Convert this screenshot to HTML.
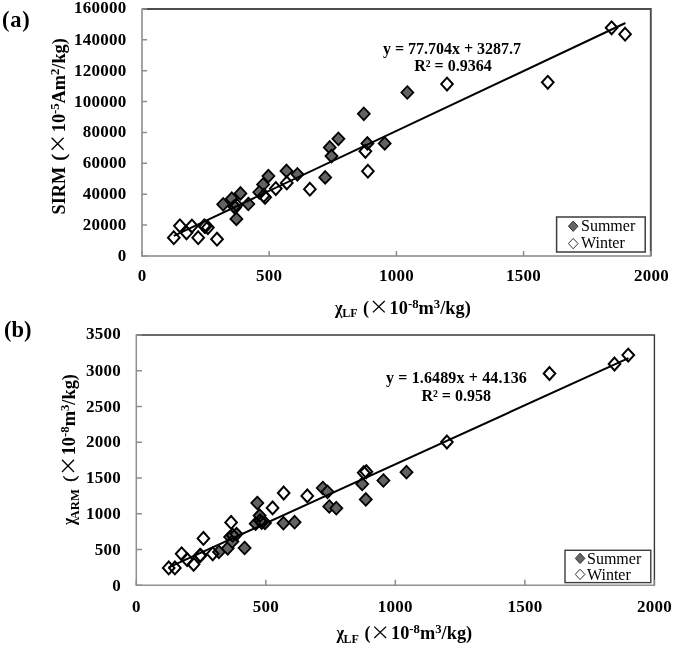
<!DOCTYPE html>
<html><head><meta charset="utf-8"><title>chart</title>
<style>
html,body{margin:0;padding:0;background:#fff}
body{width:675px;height:646px;overflow:hidden}
svg{display:block;will-change:transform}
text{font-family:"Liberation Serif",serif;fill:#000}
.tk{font-size:17px;font-weight:bold;letter-spacing:0.25px}
.eq{font-size:16px;font-weight:bold}
.lg{font-size:16px}
.pl{font-size:22.5px;font-weight:bold}
.tt{font-size:18px;font-weight:bold}
.tr{font-size:18px}
.sp{font-size:12.5px;font-weight:bold}
.sb{font-size:12px;font-weight:bold}
</style></head><body>
<svg width="675" height="646" viewBox="0 0 675 646">
<rect width="675" height="646" fill="#fff"/>
<path d="M142.0 9.0H650.8V255.9" fill="none" stroke="#4c4c4c" stroke-width="1.9"/>
<path d="M142.0 8.4V255.9H651.4" fill="none" stroke="#a4a4a4" stroke-width="2.0"/>
<path d="M142.0 255.90h5M142.0 225.04h5M142.0 194.18h5M142.0 163.31h5M142.0 132.45h5M142.0 101.59h5M142.0 70.72h5M142.0 39.86h5M142.0 9.00h5M142.00 255.9v-5M269.20 255.9v-5M396.40 255.9v-5M523.60 255.9v-5M650.80 255.9v-5" fill="none" stroke="#8e8e8e" stroke-width="1.5"/>
<text class="tk" x="126.6" y="260.9" text-anchor="end">0</text>
<text class="tk" x="126.6" y="230.0" text-anchor="end">20000</text>
<text class="tk" x="126.6" y="199.2" text-anchor="end">40000</text>
<text class="tk" x="126.6" y="168.3" text-anchor="end">60000</text>
<text class="tk" x="126.6" y="137.4" text-anchor="end">80000</text>
<text class="tk" x="126.6" y="106.6" text-anchor="end">100000</text>
<text class="tk" x="126.6" y="75.7" text-anchor="end">120000</text>
<text class="tk" x="126.6" y="44.9" text-anchor="end">140000</text>
<text class="tk" x="126.6" y="12.6" text-anchor="end">160000</text>
<text class="tk" x="142.0" y="281.1" text-anchor="middle">0</text>
<text class="tk" x="269.2" y="281.1" text-anchor="middle">500</text>
<text class="tk" x="396.4" y="281.1" text-anchor="middle">1000</text>
<text class="tk" x="523.6" y="281.1" text-anchor="middle">1500</text>
<text class="tk" x="651.6" y="281.1" text-anchor="middle">2000</text>
<path d="M223.2 198.0L229.1 204.3L223.2 210.6L217.2 204.3Z" fill="#626262" stroke="#000" stroke-width="1.8"/>
<path d="M231.8 192.4L237.8 198.7L231.8 205.0L225.8 198.7Z" fill="#626262" stroke="#000" stroke-width="1.8"/>
<path d="M234.1 200.2L240.1 206.5L234.1 212.8L228.1 206.5Z" fill="#626262" stroke="#000" stroke-width="1.8"/>
<path d="M236.4 212.6L242.4 218.9L236.4 225.2L230.4 218.9Z" fill="#626262" stroke="#000" stroke-width="1.8"/>
<path d="M240.5 187.1L246.4 193.4L240.5 199.7L234.5 193.4Z" fill="#626262" stroke="#000" stroke-width="1.8"/>
<path d="M248.3 197.7L254.3 204.0L248.3 210.3L242.4 204.0Z" fill="#626262" stroke="#000" stroke-width="1.8"/>
<path d="M260.8 185.3L266.8 191.6L260.8 197.9L254.8 191.6Z" fill="#626262" stroke="#000" stroke-width="1.8"/>
<path d="M263.1 178.2L269.1 184.5L263.1 190.8L257.1 184.5Z" fill="#626262" stroke="#000" stroke-width="1.8"/>
<path d="M259.3 186.0L265.3 192.3L259.3 198.6L253.3 192.3Z" fill="#626262" stroke="#000" stroke-width="1.8"/>
<path d="M268.4 169.8L274.4 176.1L268.4 182.4L262.5 176.1Z" fill="#626262" stroke="#000" stroke-width="1.8"/>
<path d="M286.5 164.6L292.5 170.9L286.5 177.2L280.5 170.9Z" fill="#626262" stroke="#000" stroke-width="1.8"/>
<path d="M297.4 168.0L303.4 174.3L297.4 180.6L291.5 174.3Z" fill="#626262" stroke="#000" stroke-width="1.8"/>
<path d="M325.2 171.1L331.2 177.4L325.2 183.7L319.2 177.4Z" fill="#626262" stroke="#000" stroke-width="1.8"/>
<path d="M329.7 141.1L335.7 147.4L329.7 153.7L323.8 147.4Z" fill="#626262" stroke="#000" stroke-width="1.8"/>
<path d="M331.5 149.8L337.5 156.1L331.5 162.4L325.5 156.1Z" fill="#626262" stroke="#000" stroke-width="1.8"/>
<path d="M338.4 132.5L344.4 138.8L338.4 145.1L332.4 138.8Z" fill="#626262" stroke="#000" stroke-width="1.8"/>
<path d="M363.8 107.5L369.8 113.8L363.8 120.1L357.9 113.8Z" fill="#626262" stroke="#000" stroke-width="1.8"/>
<path d="M367.4 137.1L373.4 143.4L367.4 149.7L361.4 143.4Z" fill="#626262" stroke="#000" stroke-width="1.8"/>
<path d="M384.7 137.1L390.7 143.4L384.7 149.7L378.7 143.4Z" fill="#626262" stroke="#000" stroke-width="1.8"/>
<path d="M407.3 86.2L413.3 92.5L407.3 98.8L401.4 92.5Z" fill="#626262" stroke="#000" stroke-width="1.8"/>
<path d="M173.8 231.3L179.6 237.7L173.8 244.1L168.0 237.7Z" fill="none" stroke="#000" stroke-width="2"/>
<path d="M179.9 219.4L185.7 225.8L179.9 232.2L174.1 225.8Z" fill="none" stroke="#000" stroke-width="2"/>
<path d="M186.5 226.4L192.3 232.8L186.5 239.2L180.7 232.8Z" fill="none" stroke="#000" stroke-width="2"/>
<path d="M191.9 219.7L197.7 226.1L191.9 232.5L186.0 226.1Z" fill="none" stroke="#000" stroke-width="2"/>
<path d="M198.2 231.3L204.0 237.7L198.2 244.1L192.4 237.7Z" fill="none" stroke="#000" stroke-width="2"/>
<path d="M204.3 219.4L210.2 225.8L204.3 232.2L198.5 225.8Z" fill="none" stroke="#000" stroke-width="2"/>
<path d="M205.1 220.3L210.9 226.7L205.1 233.1L199.3 226.7Z" fill="none" stroke="#000" stroke-width="2"/>
<path d="M207.9 221.2L213.7 227.6L207.9 234.0L202.1 227.6Z" fill="none" stroke="#000" stroke-width="2"/>
<path d="M217.0 232.8L222.9 239.2L217.0 245.6L211.2 239.2Z" fill="none" stroke="#000" stroke-width="2"/>
<path d="M235.1 201.2L240.9 207.6L235.1 214.0L229.3 207.6Z" fill="none" stroke="#000" stroke-width="2"/>
<path d="M236.6 198.7L242.5 205.1L236.6 211.5L230.8 205.1Z" fill="none" stroke="#000" stroke-width="2"/>
<path d="M263.6 189.3L269.4 195.7L263.6 202.1L257.8 195.7Z" fill="none" stroke="#000" stroke-width="2"/>
<path d="M265.1 190.9L271.0 197.3L265.1 203.7L259.3 197.3Z" fill="none" stroke="#000" stroke-width="2"/>
<path d="M275.8 182.2L281.6 188.6L275.8 195.0L270.0 188.6Z" fill="none" stroke="#000" stroke-width="2"/>
<path d="M286.8 176.5L292.6 182.9L286.8 189.3L280.9 182.9Z" fill="none" stroke="#000" stroke-width="2"/>
<path d="M309.9 182.8L315.7 189.2L309.9 195.6L304.1 189.2Z" fill="none" stroke="#000" stroke-width="2"/>
<path d="M365.4 144.9L371.2 151.3L365.4 157.7L359.5 151.3Z" fill="none" stroke="#000" stroke-width="2"/>
<path d="M367.9 164.8L373.7 171.2L367.9 177.6L362.1 171.2Z" fill="none" stroke="#000" stroke-width="2"/>
<path d="M447.0 77.7L452.8 84.1L447.0 90.5L441.2 84.1Z" fill="none" stroke="#000" stroke-width="2"/>
<path d="M547.8 75.9L553.6 82.3L547.8 88.7L541.9 82.3Z" fill="none" stroke="#000" stroke-width="2"/>
<path d="M611.6 21.4L617.4 27.8L611.6 34.2L605.8 27.8Z" fill="none" stroke="#000" stroke-width="2"/>
<path d="M625.1 27.8L630.9 34.2L625.1 40.6L619.3 34.2Z" fill="none" stroke="#000" stroke-width="2"/>
<line x1="173.8" y1="235.8" x2="625.4" y2="23.0" stroke="#000" stroke-width="2"/>
<text class="eq" x="452" y="53.7" text-anchor="middle">y = 77.704x + 3287.7</text>
<text class="eq" x="453" y="70.8" text-anchor="middle">R² = 0.9364</text>
<rect x="556.6" y="217" width="88.6" height="35" fill="#fff" stroke="#3c3c3c" stroke-width="1.5"/>
<path d="M573.2 221.0L578.0 226.2L573.2 231.4L568.4 226.2Z" fill="#666" stroke="#333" stroke-width="1"/>
<path d="M573.2 238.4L578.0 243.6L573.2 248.8L568.4 243.6Z" fill="#fff" stroke="#333" stroke-width="1"/>
<text class="lg" x="581" y="230.6">Summer</text>
<text class="lg" x="581" y="248.1">Winter</text>
<text class="pl" x="2" y="26.8" style="letter-spacing:0.7px">(a)</text>
<text class="tt" x="335" y="313.6" textLength="7.6" lengthAdjust="spacingAndGlyphs">χ</text>
<text class="sb" x="342.2" y="317.0">LF</text>
<text class="tt" x="363" y="313.6">(</text>
<path d="M372.9 301.0l11.8 11.4m0 -11.4l-11.8 11.4" stroke="#000" stroke-width="1.3" fill="none"/>
<text class="tt" x="389.6" y="313.6" textLength="81.2" lengthAdjust="spacingAndGlyphs">10<tspan class="sp" dy="-6">-8</tspan><tspan dy="6">m</tspan><tspan class="sp" dy="-6">3</tspan><tspan dy="6">/kg)</tspan></text>
<g transform="translate(64.8,214.6) rotate(-90)">
<text class="tt" x="0.2" y="0" textLength="47.6" lengthAdjust="spacingAndGlyphs">SIRM</text>
<text class="tt" x="54.2" y="0.5" style="font-size:19px;font-weight:normal;stroke:#000;stroke-width:0.55">(</text>
<path d="M64.8 -13.2l12 12m0 -12l-12 12" stroke="#000" stroke-width="1.3" fill="none"/>
<text class="tt" x="82.4" y="0" textLength="94" lengthAdjust="spacingAndGlyphs">10<tspan class="sp" dy="-6">-5</tspan><tspan dy="6">Am</tspan><tspan class="sp" dy="-6">2</tspan><tspan dy="6">/kg)</tspan></text>
</g>
<path d="M136.3 335.0H654.4V585.3" fill="none" stroke="#3a3a3a" stroke-width="1.4"/>
<path d="M136.3 334.4V585.3H655.0" fill="none" stroke="#909090" stroke-width="1.5"/>
<path d="M136.3 585.30h5.6M136.3 549.54h5.6M136.3 513.79h5.6M136.3 478.03h5.6M136.3 442.27h5.6M136.3 406.51h5.6M136.3 370.76h5.6M136.3 335.00h5.6M136.30 585.3v-5.6M265.82 585.3v-5.6M395.35 585.3v-5.6M524.88 585.3v-5.6M654.40 585.3v-5.6" fill="none" stroke="#8e8e8e" stroke-width="1.5"/>
<text class="tk" x="120.9" y="590.8" text-anchor="end">0</text>
<text class="tk" x="120.9" y="554.5" text-anchor="end">500</text>
<text class="tk" x="120.9" y="518.8" text-anchor="end">1000</text>
<text class="tk" x="120.9" y="483.0" text-anchor="end">1500</text>
<text class="tk" x="120.9" y="447.3" text-anchor="end">2000</text>
<text class="tk" x="120.9" y="411.5" text-anchor="end">2500</text>
<text class="tk" x="120.9" y="375.8" text-anchor="end">3000</text>
<text class="tk" x="120.9" y="339.1" text-anchor="end">3500</text>
<text class="tk" x="136.3" y="611.6" text-anchor="middle">0</text>
<text class="tk" x="265.8" y="611.6" text-anchor="middle">500</text>
<text class="tk" x="395.3" y="611.6" text-anchor="middle">1000</text>
<text class="tk" x="524.9" y="611.6" text-anchor="middle">1500</text>
<text class="tk" x="654.4" y="611.6" text-anchor="middle">2000</text>
<path d="M218.9 545.7L224.9 552.0L218.9 558.3L213.0 552.0Z" fill="#626262" stroke="#000" stroke-width="1.8"/>
<path d="M227.7 542.0L233.7 548.3L227.7 554.6L221.8 548.3Z" fill="#626262" stroke="#000" stroke-width="1.8"/>
<path d="M230.1 530.7L236.1 537.0L230.1 543.3L224.1 537.0Z" fill="#626262" stroke="#000" stroke-width="1.8"/>
<path d="M232.4 535.2L238.4 541.5L232.4 547.8L226.4 541.5Z" fill="#626262" stroke="#000" stroke-width="1.8"/>
<path d="M236.6 527.8L242.5 534.1L236.6 540.4L230.6 534.1Z" fill="#626262" stroke="#000" stroke-width="1.8"/>
<path d="M244.6 541.7L250.6 548.0L244.6 554.3L238.6 548.0Z" fill="#626262" stroke="#000" stroke-width="1.8"/>
<path d="M257.3 496.7L263.3 503.0L257.3 509.3L251.3 503.0Z" fill="#626262" stroke="#000" stroke-width="1.8"/>
<path d="M259.6 509.3L265.6 515.6L259.6 521.9L253.6 515.6Z" fill="#626262" stroke="#000" stroke-width="1.8"/>
<path d="M255.7 517.4L261.7 523.7L255.7 530.0L249.7 523.7Z" fill="#626262" stroke="#000" stroke-width="1.8"/>
<path d="M265.0 516.6L271.0 522.9L265.0 529.2L259.1 522.9Z" fill="#626262" stroke="#000" stroke-width="1.8"/>
<path d="M283.4 516.9L289.4 523.2L283.4 529.5L277.5 523.2Z" fill="#626262" stroke="#000" stroke-width="1.8"/>
<path d="M294.6 515.9L300.6 522.2L294.6 528.5L288.6 522.2Z" fill="#626262" stroke="#000" stroke-width="1.8"/>
<path d="M322.8 481.7L328.8 488.0L322.8 494.3L316.8 488.0Z" fill="#626262" stroke="#000" stroke-width="1.8"/>
<path d="M327.5 485.5L333.5 491.8L327.5 498.1L321.5 491.8Z" fill="#626262" stroke="#000" stroke-width="1.8"/>
<path d="M329.3 500.2L335.3 506.5L329.3 512.8L323.3 506.5Z" fill="#626262" stroke="#000" stroke-width="1.8"/>
<path d="M336.3 501.9L342.3 508.2L336.3 514.5L330.3 508.2Z" fill="#626262" stroke="#000" stroke-width="1.8"/>
<path d="M362.2 477.7L368.2 484.0L362.2 490.3L356.2 484.0Z" fill="#626262" stroke="#000" stroke-width="1.8"/>
<path d="M365.8 493.1L371.8 499.4L365.8 505.7L359.8 499.4Z" fill="#626262" stroke="#000" stroke-width="1.8"/>
<path d="M383.4 474.2L389.4 480.5L383.4 486.8L377.4 480.5Z" fill="#626262" stroke="#000" stroke-width="1.8"/>
<path d="M406.5 465.9L412.5 472.2L406.5 478.5L400.5 472.2Z" fill="#626262" stroke="#000" stroke-width="1.8"/>
<path d="M168.7 561.5L174.5 567.9L168.7 574.3L162.9 567.9Z" fill="none" stroke="#000" stroke-width="2"/>
<path d="M174.9 561.5L180.7 567.9L174.9 574.3L169.1 567.9Z" fill="none" stroke="#000" stroke-width="2"/>
<path d="M181.6 547.4L187.5 553.8L181.6 560.2L175.8 553.8Z" fill="none" stroke="#000" stroke-width="2"/>
<path d="M187.1 553.2L192.9 559.6L187.1 566.0L181.2 559.6Z" fill="none" stroke="#000" stroke-width="2"/>
<path d="M193.6 557.9L199.4 564.3L193.6 570.7L187.7 564.3Z" fill="none" stroke="#000" stroke-width="2"/>
<path d="M199.8 549.2L205.6 555.6L199.8 562.0L193.9 555.6Z" fill="none" stroke="#000" stroke-width="2"/>
<path d="M200.5 549.0L206.4 555.4L200.5 561.8L194.7 555.4Z" fill="none" stroke="#000" stroke-width="2"/>
<path d="M203.4 532.0L209.2 538.4L203.4 544.8L197.6 538.4Z" fill="none" stroke="#000" stroke-width="2"/>
<path d="M212.7 547.4L218.5 553.8L212.7 560.2L206.9 553.8Z" fill="none" stroke="#000" stroke-width="2"/>
<path d="M231.1 516.0L236.9 522.4L231.1 528.8L225.3 522.4Z" fill="none" stroke="#000" stroke-width="2"/>
<path d="M232.7 528.8L238.5 535.2L232.7 541.6L226.8 535.2Z" fill="none" stroke="#000" stroke-width="2"/>
<path d="M260.1 514.3L265.9 520.7L260.1 527.1L254.3 520.7Z" fill="none" stroke="#000" stroke-width="2"/>
<path d="M261.7 516.0L267.5 522.4L261.7 528.8L255.9 522.4Z" fill="none" stroke="#000" stroke-width="2"/>
<path d="M272.6 501.5L278.4 507.9L272.6 514.3L266.7 507.9Z" fill="none" stroke="#000" stroke-width="2"/>
<path d="M283.7 486.6L289.5 493.0L283.7 499.4L277.9 493.0Z" fill="none" stroke="#000" stroke-width="2"/>
<path d="M307.3 489.5L313.1 495.9L307.3 502.3L301.4 495.9Z" fill="none" stroke="#000" stroke-width="2"/>
<path d="M363.7 466.3L369.6 472.7L363.7 479.1L357.9 472.7Z" fill="none" stroke="#000" stroke-width="2"/>
<path d="M366.3 465.3L372.2 471.7L366.3 478.1L360.5 471.7Z" fill="none" stroke="#000" stroke-width="2"/>
<path d="M446.9 435.6L452.7 442.0L446.9 448.4L441.1 442.0Z" fill="none" stroke="#000" stroke-width="2"/>
<path d="M549.5 367.1L555.3 373.5L549.5 379.9L543.7 373.5Z" fill="none" stroke="#000" stroke-width="2"/>
<path d="M614.5 357.6L620.3 364.0L614.5 370.4L608.7 364.0Z" fill="none" stroke="#000" stroke-width="2"/>
<path d="M628.2 348.7L634.1 355.1L628.2 361.5L622.4 355.1Z" fill="none" stroke="#000" stroke-width="2"/>
<line x1="168.7" y1="567.4" x2="628.5" y2="358.1" stroke="#000" stroke-width="2"/>
<text class="eq" x="456.5" y="383" text-anchor="middle" style="letter-spacing:0.14px">y = 1.6489x + 44.136</text>
<text class="eq" x="456.2" y="400.5" text-anchor="middle">R² = 0.958</text>
<rect x="565" y="550.3" width="85.8" height="32.3" fill="#fff" stroke="#3c3c3c" stroke-width="1.4"/>
<path d="M580.1 553.2L584.9 558.4L580.1 563.6L575.3 558.4Z" fill="#666" stroke="#333" stroke-width="1"/>
<path d="M580.1 569.2L584.9 574.4L580.1 579.6L575.3 574.4Z" fill="#fff" stroke="#333" stroke-width="1"/>
<text class="lg" x="587" y="564">Summer</text>
<text class="lg" x="587" y="580">Winter</text>
<text class="pl" x="4" y="336.7">(b)</text>
<text class="tt" x="336.4" y="639.2" textLength="7.6" lengthAdjust="spacingAndGlyphs">χ</text>
<text class="sb" x="343.59999999999997" y="642.6">LF</text>
<text class="tt" x="364.4" y="639.2">(</text>
<path d="M374.29999999999995 626.6l11.8 11.4m0 -11.4l-11.8 11.4" stroke="#000" stroke-width="1.3" fill="none"/>
<text class="tt" x="391.0" y="639.2" textLength="81.2" lengthAdjust="spacingAndGlyphs">10<tspan class="sp" dy="-6">-8</tspan><tspan dy="6">m</tspan><tspan class="sp" dy="-6">3</tspan><tspan dy="6">/kg)</tspan></text>
<g transform="translate(74.8,525) rotate(-90)">
<text class="tt" x="0" y="0" textLength="7.2" lengthAdjust="spacingAndGlyphs">χ</text>
<text class="sb" x="5.6" y="4.1" textLength="30.4" lengthAdjust="spacingAndGlyphs">ARM</text>
<text class="tt" x="43.2" y="-0.3" style="font-size:17.5px;font-weight:normal;stroke:#000;stroke-width:0.55">(</text>
<path d="M53 -12.8l12.3 12m0 -12l-12.3 12" stroke="#000" stroke-width="1.3" fill="none"/>
<text class="tt" x="69.7" y="0" textLength="81.3" lengthAdjust="spacingAndGlyphs">10<tspan class="sp" dy="-6">-8</tspan><tspan dy="6">m</tspan><tspan class="sp" dy="-6">3</tspan><tspan dy="6">/kg)</tspan></text>
</g>
</svg>
</body></html>
